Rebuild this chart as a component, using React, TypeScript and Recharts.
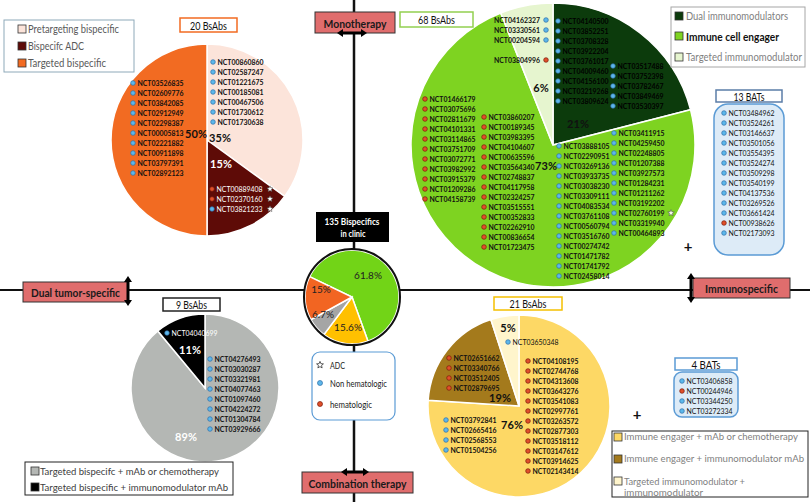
import React from 'react';
import { PieChart, Pie, Cell } from 'recharts';

const FONT = "Lato, 'Open Sans', sans-serif";

// ---------- pie data ----------
const tlNames = ['Pretargeting bispecific', 'Bispecifc ADC', 'Targeted bispecific'];
const tlValues = [35, 15, 50];
const trNames = ['Dual immunomodulators', 'Immune cell engager', 'Targeted immunomodulator'];
const trValues = [21, 73, 6];
const cNames = ['Immunospecific', 'Combination therapy', 'Dual tumor-specific', 'Monotherapy targeted'];
const cValues = [61.8, 15.6, 6.7, 15];
const blNames = ['Targeted bispecifc + mAb or chemotherapy', 'Targeted bispecific + immunomodulator mAb'];
const blValues = [89, 11];
const brNames = ['Immune engager + mAb or chemotherapy', 'Immune engager + immunomodulator mAb', 'Targeted immunomodulator + immunomodulator'];
const brValues = [76, 19, 5];

// ---------- trial id lists (n = non hematologic, h = hematologic) ----------
const tlPretargetingIds = ['NCT00860860', 'NCT02587247', 'NCT01221675', 'NCT00185081', 'NCT00467506', 'NCT01730612', 'NCT01730638'];
const tlTargetedIds = ['NCT03526835', 'NCT02609776', 'NCT03842085', 'NCT02912949', 'NCT02298387', 'NCT00005813', 'NCT02221882', 'NCT00911898', 'NCT03797391', 'NCT02892123'];
const tlAdcIds = ['NCT00889408', 'NCT02370160', 'NCT03821233'];
const tlAdcKinds = ['h', 'h', 'n'];

const trTargetedIds = ['NCT04162327', 'NCT03330561', 'NCT00204594'];
const trTargetedHemIds = ['NCT03804996'];
const trDualIdsA = ['NCT04140500', 'NCT03852251', 'NCT03708328', 'NCT03922204', 'NCT03761017', 'NCT04009460', 'NCT04156100', 'NCT03219268', 'NCT03809624'];
const trDualIdsB = ['NCT03517488', 'NCT03752398', 'NCT03782467', 'NCT03849469', 'NCT03530397'];
const trEngagerHemA = ['NCT01466179', 'NCT03075696', 'NCT02811679', 'NCT04101331', 'NCT03114865', 'NCT03751709', 'NCT03072771', 'NCT03982992', 'NCT03915379', 'NCT01209286', 'NCT04158739'];
const trEngagerHemB = ['NCT03860207', 'NCT00189345', 'NCT03983395', 'NCT04104607', 'NCT00635596', 'NCT03564340', 'NCT02748837', 'NCT04117958', 'NCT02324257', 'NCT03515551', 'NCT00352833', 'NCT02262910', 'NCT00836654', 'NCT01723475'];
const trEngagerSolidA = ['NCT03888105', 'NCT02290951', 'NCT03269136', 'NCT03933735', 'NCT03038230', 'NCT03309111', 'NCT04083534', 'NCT03761108', 'NCT00560794', 'NCT03516760', 'NCT00274742', 'NCT01471782', 'NCT01741792', 'NCT02458014'];
const trEngagerSolidB = ['NCT03411915', 'NCT04259450', 'NCT02248805', 'NCT01207388', 'NCT03927573', 'NCT01284231', 'NCT01211262', 'NCT03192202', 'NCT02760199', 'NCT03319940', 'NCT00464893'];
const trAdcId = 'NCT02760199';
const batsTopIds = ['NCT03484962', 'NCT03524261', 'NCT03146637', 'NCT03501056', 'NCT03554395', 'NCT03524274', 'NCT03509298', 'NCT03540199', 'NCT04137536', 'NCT03269526', 'NCT03661424', 'NCT00938626', 'NCT02173093'];
const batsTopKinds = ['n', 'n', 'n', 'n', 'n', 'n', 'n', 'n', 'n', 'n', 'n', 'h', 'n'];

const blImmunoIds = ['NCT04040699'];
const blTargetedIds = ['NCT04276493', 'NCT03030287', 'NCT03321981', 'NCT04077463', 'NCT01097460', 'NCT04224272', 'NCT01304784', 'NCT03929666'];

const brTargetedIds = ['NCT03650348'];
const brImmunoIds = ['NCT02651662', 'NCT03340766', 'NCT03512405', 'NCT02879695'];
const brEngagerHemIds = ['NCT04108195', 'NCT02744768', 'NCT04313608', 'NCT03643276', 'NCT03541083', 'NCT02997761', 'NCT03263572', 'NCT02877303', 'NCT03518112', 'NCT03147612', 'NCT03914625', 'NCT02143414'];
const brEngagerSolidIds = ['NCT03792841', 'NCT02665416', 'NCT02568553', 'NCT01504256'];
const batsBottomIds = ['NCT03406858', 'NCT00244946', 'NCT03344250', 'NCT03272334'];
const batsBottomKinds = ['n', 'h', 'n', 'n'];

// ---------- text labels ----------
const countLabels = ['20 BsAbs', '68 BsAbs', '9 BsAbs', '21 BsAbs', '13 BATs', '4 BATs'];
const axisLabels = ['Monotherapy', 'Immunospecific', 'Dual tumor-specific', 'Combination therapy'];
const centerTitle = ['135 Bispecifics', 'in clinic'];
const markerLegend = ['ADC', 'Non hematologic', 'hematologic'];
const brLegendLines = ['Targeted immunomodulator +', 'immunomodulator'];

// ---------- styles ----------
const tlColors = ['#FCE4DA', '#5E0B07', '#F26B22'];
const trColors = ['#0C3B0C', '#7ED321', '#E6F5CF'];
const cColors = ['#72D417', '#FFC000', '#A5A5A5', '#F26522'];
const blColors = ['#B4B7B4', '#000000'];
const brColors = ['#FDD865', '#A47A1C', '#FFF5CC'];
const labelFill = '#E06D6D';

const toData = (names: string[], values: number[]) => names.map((name, i) => ({ name, value: values[i] }));

const dotStyle = (k: string) =>
  k === 'h' ? { fill: '#E0502A', stroke: '#7A1A0A' } : { fill: '#5DB7EA', stroke: '#2E6FA8' };

function T(props: any) {
  const { x, y, w, size = 11, weight = 400, fill = '#222', anchor = 'start', children } = props;
  return (
    <text
      x={x}
      y={y}
      fontSize={size}
      fontWeight={weight}
      fill={fill}
      textAnchor={anchor}
      dominantBaseline="central"
      fontFamily={FONT}
      {...(w ? { textLength: w, lengthAdjust: 'spacingAndGlyphs' } : {})}
    >
      {children}
    </text>
  );
}

function IdList(props: any) {
  const { ids, kinds, kind = 'n', x, y, step = 10, fill = '#111', weight = 700, anchor = 'start', w = 46 } = props;
  return (
    <g>
      {ids.map((id: string, i: number) => {
        const k = kinds ? kinds[i] : kind;
        const ds = dotStyle(k);
        const yy = y + i * step;
        const dotX = anchor === 'end' ? x + 6 : x;
        const textX = anchor === 'end' ? x : x + 4.5;
        return (
          <g key={id + i}>
            <circle cx={dotX} cy={yy} r={2.3} fill={ds.fill} stroke={ds.stroke} strokeWidth={0.7} />
            <T x={textX} y={yy} w={w} size={8.3} weight={weight} fill={fill} anchor={anchor}>{id}</T>
          </g>
        );
      })}
    </g>
  );
}

function starPath(cx: number, cy: number, r: number) {
  const pts: string[] = [];
  for (let i = 0; i < 10; i++) {
    const rr = i % 2 === 0 ? r : r * 0.45;
    const a = -Math.PI / 2 + (i * Math.PI) / 5;
    pts.push(`${(cx + rr * Math.cos(a)).toFixed(2)},${(cy + rr * Math.sin(a)).toFixed(2)}`);
  }
  return 'M' + pts.join('L') + 'Z';
}

function HArrow({ x1, x2, y }: any) {
  return (
    <g>
      <line x1={x1 + 4} x2={x2 - 4} y1={y} y2={y} stroke="#000" strokeWidth={3} />
      <path d={`M${x1},${y} L${x1 + 6},${y - 4} L${x1 + 6},${y + 4} Z`} fill="#000" />
      <path d={`M${x2},${y} L${x2 - 6},${y - 4} L${x2 - 6},${y + 4} Z`} fill="#000" />
    </g>
  );
}
function VArrow({ y1, y2, x }: any) {
  return (
    <g>
      <line y1={y1 + 4} y2={y2 - 4} x1={x} x2={x} stroke="#000" strokeWidth={3} />
      <path d={`M${x},${y1} L${x - 4},${y1 + 6} L${x + 4},${y1 + 6} Z`} fill="#000" />
      <path d={`M${x},${y2} L${x - 4},${y2 - 6} L${x + 4},${y2 - 6} Z`} fill="#000" />
    </g>
  );
}

function LabelBox({ x, y, w, h, text, tw }: any) {
  return (
    <g>
      <rect x={x} y={y} width={w} height={h} fill={labelFill} stroke="#333" strokeWidth={1} />
      <T x={x + w / 2} y={y + h / 2 + 0.5} w={tw} size={11.5} weight={700} fill="#1a1a1a" anchor="middle">{text}</T>
    </g>
  );
}

function CountBox({ x, y, w, h, text, tw, stroke }: any) {
  return (
    <g>
      <rect x={x} y={y} width={w} height={h} fill="#fff" stroke={stroke} strokeWidth={1.5} />
      <T x={x + w / 2} y={y + h / 2 + 0.5} w={tw} size={10.5} fill="#111" anchor="middle">{text}</T>
    </g>
  );
}

function Swatch({ x, y, fill }: any) {
  return <rect x={x} y={y - 4} width={8} height={8} fill={fill} stroke="#333" strokeWidth={0.8} />;
}

export default function App() {
  const W = 810;
  const H = 502;
  const pieCommon = { isAnimationActive: false, stroke: '#fff', strokeWidth: 1.5, dataKey: 'value' } as any;

  return (
    <div style={{ position: 'absolute', left: 0, top: 0, width: W, height: H, background: '#fff', overflow: 'hidden' }}>
      {/* underlay: axes */}
      <svg width={W} height={H} style={{ position: 'absolute', left: 0, top: 0 }}>
        <line x1={0} x2={W} y1={290} y2={290} stroke="#111" strokeWidth={2} />
        <line x1={354} x2={354} y1={0} y2={H} stroke="#111" strokeWidth={2.5} />
      </svg>

      <div style={{ position: 'absolute', left: 0, top: 0 }}>
        <PieChart width={W} height={H} margin={{ top: 0, right: 0, bottom: 0, left: 0 }}>
          <Pie {...pieCommon} data={toData(tlNames, tlValues)} cx={207} cy={140} outerRadius={96} startAngle={90} endAngle={-270}>
            {tlValues.map((_, i) => <Cell key={i} fill={tlColors[i]} />)}
          </Pie>
          <Pie {...pieCommon} data={toData(trNames, trValues)} cx={553} cy={145} outerRadius={142} startAngle={90} endAngle={-270}>
            {trValues.map((_, i) => <Cell key={i} fill={trColors[i]} />)}
          </Pie>
          <Pie {...pieCommon} data={toData(cNames, cValues)} cx={352} cy={297} outerRadius={47} startAngle={154.4} endAngle={-205.6}>
            {cValues.map((_, i) => <Cell key={i} fill={cColors[i]} />)}
          </Pie>
          <Pie {...pieCommon} data={toData(blNames, blValues)} cx={205} cy={388} outerRadius={74} startAngle={90} endAngle={-270}>
            {blValues.map((_, i) => <Cell key={i} fill={blColors[i]} />)}
          </Pie>
          <Pie {...pieCommon} data={toData(brNames, brValues)} cx={519} cy={406} outerRadius={91} startAngle={90} endAngle={-270}>
            {brValues.map((_, i) => <Cell key={i} fill={brColors[i]} />)}
          </Pie>
        </PieChart>
      </div>

      {/* overlay: labels */}
      <svg width={W} height={H} style={{ position: 'absolute', left: 0, top: 0, pointerEvents: 'none' }}>
        {/* center pie outline */}
        <circle cx={352} cy={297} r={48} fill="none" stroke="#111" strokeWidth={2} />

        {/* axis labels */}
        <LabelBox x={315} y={12} w={80} h={21} text={axisLabels[0]} tw={63} />
        <HArrow x1={337} x2={367} y={33} />
        <LabelBox x={693} y={278} w={97} h={20} text={axisLabels[1]} tw={73} />
        <VArrow x={691} y1={273} y2={303} />
        <LabelBox x={23} y={282} w={105} h={20} text={axisLabels[2]} tw={89} />
        <VArrow x={128} y1={276} y2={306} />
        <LabelBox x={302} y={472} w={111} h={21} text={axisLabels[3]} tw={98} />
        <HArrow x1={341} x2={369} y={472} />

        {/* center title */}
        <rect x={316} y={212} width={73} height={30} fill="#000" />
        <T x={352} y={221} w={55} size={10} weight={700} fill="#fff" anchor="middle">{centerTitle[0]}</T>
        <T x={353} y={233} w={25} size={10} weight={700} fill="#fff" anchor="middle">{centerTitle[1]}</T>

        {/* center percentages */}
        <T x={368} y={275} size={10} fill="#222" anchor="middle">{cValues[0]}%</T>
        <T x={348} y={327} size={10} fill="#222" anchor="middle">{cValues[1]}%</T>
        <T x={323} y={314} size={10} fill="#222" anchor="middle">{cValues[2]}%</T>
        <T x={321} y={289} size={10} fill="#222" anchor="middle">{cValues[3]}%</T>

        {/* marker legend */}
        <rect x={312} y={352} width={83} height={68} rx={8} fill="#fff" stroke="#5B9BD5" strokeWidth={1.2} />
        <path d={starPath(320, 365, 3.6)} fill="#fff" stroke="#333" strokeWidth={0.8} />
        <T x={330} y={365} w={15} size={9} fill="#222">{markerLegend[0]}</T>
        <circle cx={320} cy={383} r={2.5} {...dotStyle('n')} strokeWidth={0.7} />
        <T x={330} y={383} w={57} size={9} fill="#222">{markerLegend[1]}</T>
        <circle cx={320} cy={404} r={2.5} {...dotStyle('h')} strokeWidth={0.7} />
        <T x={330} y={404} w={42} size={9} fill="#222">{markerLegend[2]}</T>

        {/* ---------------- top-left ---------------- */}
        <rect x={4} y={20} width={130} height={52} fill="#fff" stroke="#8EA9B9" strokeWidth={1} />
        <Swatch x={18} y={29} fill={tlColors[0]} />
        <T x={28} y={29} w={91} size={10.5} fill="#595959">{tlNames[0]}</T>
        <Swatch x={18} y={46} fill={tlColors[1]} />
        <T x={28} y={46} w={56} size={10.5} fill="#595959">{tlNames[1]}</T>
        <Swatch x={18} y={63} fill={tlColors[2]} />
        <T x={28} y={63} w={78} size={10.5} fill="#595959">{tlNames[2]}</T>
        <CountBox x={180} y={18} w={57} h={14} text={countLabels[0]} tw={37} stroke="#F26B22" />
        <IdList ids={tlPretargetingIds} x={213} y={62} />
        <IdList ids={tlTargetedIds} x={133} y={83} />
        <IdList ids={tlAdcIds} kinds={tlAdcKinds} x={212} y={189} fill="#fff" weight={400} />
        {tlAdcIds.map((id, i) => (
          <path key={id} d={starPath(270, 189 + i * 10, 3.2)} fill="#fff" stroke="#444" strokeWidth={0.5} />
        ))}
        <T x={220} y={137} size={11} weight={700} fill="#111" anchor="middle">{tlValues[0]}%</T>
        <T x={221} y={163} size={11} weight={700} fill="#fff" anchor="middle">{tlValues[1]}%</T>
        <T x={196} y={133} size={11} weight={700} fill="#111" anchor="middle">{tlValues[2]}%</T>

        {/* ---------------- top-right ---------------- */}
        <CountBox x={400} y={12} w={73} h={15} text={countLabels[1]} tw={37} stroke="#92D050" />
        <rect x={671} y={7} width={134} height={60} fill="#fff" stroke="#A6A6A6" strokeWidth={1} />
        <Swatch x={675} y={16} fill={trColors[0]} />
        <T x={686} y={16} w={102} size={10.5} fill="#7F7F7F">{trNames[0]}</T>
        <Swatch x={675} y={36} fill={trColors[1]} />
        <T x={686} y={36} w={93} size={11} weight={700} fill="#111">{trNames[1]}</T>
        <Swatch x={675} y={57} fill={trColors[2]} />
        <T x={686} y={57} w={116} size={10.5} fill="#7F7F7F">{trNames[2]}</T>

        <IdList ids={trTargetedIds} x={540} y={20} anchor="end" />
        <IdList ids={trTargetedHemIds} kind="h" x={540} y={60} anchor="end" />
        <IdList ids={trDualIdsA} x={558} y={21} fill="#000" />
        <IdList ids={trDualIdsB} x={613} y={66} fill="#000" />
        <IdList ids={trEngagerHemA} kind="h" x={425} y={99} />
        <IdList ids={trEngagerHemB} kind="h" x={484} y={117} />
        <IdList ids={trEngagerSolidA} x={559} y={146} />
        <IdList ids={trEngagerSolidB} x={614} y={133} />
        <path d={starPath(671, 133 + trEngagerSolidB.indexOf(trAdcId) * 10, 3.4)} fill="#F4FAE8" stroke="#555" strokeWidth={0.6} />
        <T x={578} y={123} size={11} weight={700} fill="#111" anchor="middle">{trValues[0]}%</T>
        <T x={546} y={165} size={11} weight={700} fill="#111" anchor="middle">{trValues[1]}%</T>
        <T x={541} y={87} size={11} weight={700} fill="#111" anchor="middle">{trValues[2]}%</T>

        <CountBox x={716} y={90} w={66} h={12} text={countLabels[4]} tw={31} stroke="#5B7DA8" />
        <rect x={714} y={104} width={70} height={151} rx={14} fill="#DDEBF7" stroke="#5B9BD5" strokeWidth={1.5} />
        <IdList ids={batsTopIds} kinds={batsTopKinds} x={724} y={113} weight={400} />
        <T x={688} y={246} size={15} weight={700} fill="#111" anchor="middle">+</T>

        {/* ---------------- bottom-left ---------------- */}
        <CountBox x={163} y={298} w={57} h={13} text={countLabels[2]} tw={31} stroke="#222" />
        <IdList ids={blImmunoIds} x={167} y={333} fill="#fff" weight={400} />
        <IdList ids={blTargetedIds} x={210} y={359} />
        <T x={190} y={349} size={11} weight={700} fill="#fff" anchor="middle">{blValues[1]}%</T>
        <T x={186} y={436} size={11} weight={700} fill="#fff" anchor="middle">{blValues[0]}%</T>
        <rect x={25} y={462} width={208} height={33} fill="#fff" stroke="#222" strokeWidth={1} />
        <Swatch x={31} y={471} fill={blColors[0]} />
        <T x={40} y={471} w={179} size={10} fill="#404040">{blNames[0]}</T>
        <Swatch x={31} y={487} fill={blColors[1]} />
        <T x={40} y={487} w={188} size={10} fill="#404040">{blNames[1]}</T>

        {/* ---------------- bottom-right ---------------- */}
        <CountBox x={494} y={297} w={68} h={13} text={countLabels[3]} tw={37} stroke="#F5C000" />
        <IdList ids={brTargetedIds} x={508} y={342} weight={400} />
        <IdList ids={brImmunoIds} kind="h" x={449} y={358} />
        <IdList ids={brEngagerHemIds} kind="h" x={528} y={361} />
        <IdList ids={brEngagerSolidIds} x={446} y={420} />
        <T x={508} y={327} size={11} weight={700} fill="#111" anchor="middle">{brValues[2]}%</T>
        <T x={500} y={397} size={11} weight={700} fill="#111" anchor="middle">{brValues[1]}%</T>
        <T x={512} y={424} size={11} weight={700} fill="#111" anchor="middle">{brValues[0]}%</T>

        <CountBox x={675} y={358} w={62} h={12} text={countLabels[5]} tw={29} stroke="#5B9BD5" />
        <rect x={674} y={372} width={64} height={45} rx={8} fill="#DDEBF7" stroke="#5B9BD5" strokeWidth={1.5} />
        <IdList ids={batsBottomIds} kinds={batsBottomKinds} x={682} y={381} weight={400} />
        <T x={637} y={414} size={15} weight={700} fill="#111" anchor="middle">+</T>

        <rect x={612} y={431} width={196} height={66} fill="#fff" stroke="#222" strokeWidth={1} />
        <Swatch x={614} y={437} fill={brColors[0]} />
        <T x={624} y={436} w={174} size={10} fill="#7F7F7F">{brNames[0]}</T>
        <Swatch x={614} y={459} fill={brColors[1]} />
        <T x={624} y={458} w={180} size={10} fill="#7F7F7F">{brNames[1]}</T>
        <Swatch x={614} y={481} fill={brColors[2]} />
        <T x={624} y={481} w={121} size={10} fill="#7F7F7F">{brLegendLines[0]}</T>
        <T x={624} y={492} w={79} size={10} fill="#7F7F7F">{brLegendLines[1]}</T>
      </svg>
    </div>
  );
}
